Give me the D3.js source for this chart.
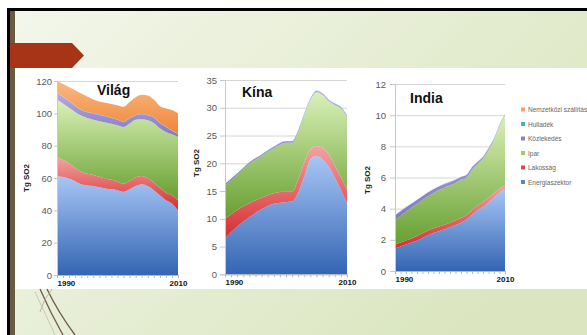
<!DOCTYPE html>
<html>
<head>
<meta charset="utf-8">
<script src="https://cdn.jsdelivr.net/npm/d3@7"></script>
<style>
  html, body { margin: 0; padding: 0; background: #fff; }
  svg { display: block; font-family: "Liberation Sans", Arial, sans-serif; }
</style>
</head>
<body>
<div id="chart"></div>
<script>
// years (x axis runs 1990 - 2010)
const years = [1990, 1992, 1994, 1996, 1998, 2000, 2001, 2002, 2003, 2004, 2005, 2006, 2007, 2008, 2009, 2010]

// stacking order, bottom to top
const sectors = ['Energiaszektor', 'Lakosság', 'Ipar', 'Közlekedés', 'Hulladék', 'Nemzetközi szállítás']

// Tg SO2 per sector (not cumulative), same order as sectors
const vilagValues = [
  [61.1, 59.7, 56.2, 55.0, 53.5, 52.5, 51.5, 53.0, 55.0, 56.2, 55.0, 52.5, 49.4, 46.3, 44.3, 40.1],
  [11.9, 9.5, 7.6, 6.8, 6.2, 5.4, 5.0, 5.3, 5.5, 5.0, 4.8, 4.6, 4.5, 4.6, 5.0, 6.2],
  [35.5, 34.3, 34.8, 34.2, 34.6, 34.7, 35.1, 35.4, 35.5, 35.1, 35.9, 36.9, 36.9, 37.6, 37.7, 39.1],
  [4.1, 4.0, 3.4, 3.8, 3.9, 3.4, 3.2, 3.1, 2.8, 3.1, 3.1, 3.4, 3.2, 3.1, 2.2, 1.8],
  [0.2, 0.2, 0.2, 0.2, 0.2, 0.2, 0.2, 0.2, 0.2, 0.2, 0.2, 0.2, 0.2, 0.2, 0.2, 0.2],
  [7.2, 8.6, 10.0, 8.6, 8.1, 8.8, 9.0, 10.0, 11.0, 11.9, 12.0, 10.9, 10.3, 11.2, 12.6, 12.6]
]
const kinaValues = [
  [6.5, 8.6, 10.3, 11.7, 12.7, 13.0, 13.1, 14.7, 17.6, 20.7, 21.3, 20.7, 19.4, 17.4, 15.2, 12.8],
  [3.5, 3.0, 2.5, 2.1, 1.9, 1.9, 1.8, 2.4, 2.6, 1.8, 1.8, 2.1, 2.2, 2.2, 2.3, 2.5],
  [6.0, 6.3, 7.1, 7.5, 8.1, 8.8, 8.8, 8.6, 8.5, 8.9, 9.7, 9.5, 9.6, 10.9, 12.4, 13.1],
  [0.25, 0.25, 0.25, 0.25, 0.25, 0.25, 0.25, 0.25, 0.25, 0.25, 0.25, 0.25, 0.25, 0.25, 0.25, 0.25],
  [0.05, 0.05, 0.05, 0.05, 0.05, 0.05, 0.05, 0.05, 0.05, 0.05, 0.05, 0.05, 0.05, 0.05, 0.05, 0.05],
  [0, 0, 0, 0, 0, 0, 0, 0, 0, 0, 0, 0, 0, 0, 0, 0]
]
const indiaValues = [
  [1.44, 1.7, 1.95, 2.3, 2.55, 2.8, 2.95, 3.1, 3.3, 3.6, 3.9, 4.1, 4.4, 4.7, 5.0, 5.3],
  [0.26, 0.25, 0.3, 0.3, 0.3, 0.3, 0.3, 0.3, 0.3, 0.3, 0.3, 0.35, 0.3, 0.3, 0.3, 0.2],
  [1.56, 1.85, 2.05, 2.2, 2.35, 2.4, 2.4, 2.45, 2.4, 2.6, 2.65, 2.75, 3.05, 3.4, 4.0, 4.5],
  [0.3, 0.28, 0.26, 0.24, 0.22, 0.2, 0.2, 0.18, 0.16, 0.15, 0.14, 0.12, 0.12, 0.1, 0.08, 0.06],
  [0.02, 0.02, 0.02, 0.02, 0.02, 0.02, 0.02, 0.02, 0.02, 0.02, 0.02, 0.02, 0.02, 0.02, 0.02, 0.02],
  [0, 0, 0, 0, 0, 0, 0, 0, 0, 0, 0, 0, 0, 0, 0, 0]
]

const vilagTicks = [0, 20, 40, 60, 80, 100, 120]
const kinaTicks = [0, 5, 10, 15, 20, 25, 30, 35]
const indiaTicks = [0, 2, 4, 6, 8, 10, 12]
const xLabels = [1990, 2010]

// vertical gradient per sector [top, bottom]
const gradColors = [
  ['#a8c6f6', '#3465b3'],
  ['#f4a2a2', '#d52e30'],
  ['#daf1b8', '#679f30'],
  ['#b4aae2', '#8577c4'],
  ['#6ccae4', '#3a9cc0'],
  ['#fab983', '#ef8638']
]
const legendColors = ['#5b86cc', '#d9474f', '#a6ca6a', '#8e80c4', '#4bb0ce', '#f4a06c']

const W = 587, H = 335
const svg = d3.select('#chart').append('svg').attr('width', W).attr('height', H)
const defs = svg.append('defs')

const bg = defs.append('linearGradient').attr('id', 'slidebg')
  .attr('x1', 0).attr('y1', 0).attr('x2', 1).attr('y2', 0.6)
bg.append('stop').attr('offset', 0).attr('stop-color', '#f3f6ea')
bg.append('stop').attr('offset', 1).attr('stop-color', '#dbe6c0')

gradColors.forEach((c, i) => {
  const lg = defs.append('linearGradient').attr('id', 'grad' + i)
    .attr('x1', 0).attr('y1', 0).attr('x2', 0).attr('y2', 1)
  lg.append('stop').attr('offset', 0).attr('stop-color', c[0])
  lg.append('stop').attr('offset', 1).attr('stop-color', c[1])
})

// slide frame
svg.append('rect').attr('width', W).attr('height', H).attr('fill', '#fff')
svg.append('rect').attr('x', 15).attr('y', 11).attr('width', W - 15).attr('height', H - 11).attr('fill', 'url(#slidebg)')
svg.append('rect').attr('x', 7).attr('y', 8).attr('width', W - 7).attr('height', 3).attr('fill', '#000')
svg.append('rect').attr('x', 7).attr('y', 8).attr('width', 3).attr('height', H - 8).attr('fill', '#000')
svg.append('rect').attr('x', 10).attr('y', 11).attr('width', 5).attr('height', H - 11).attr('fill', '#6b5b3e')

// red arrow tab
svg.append('path').attr('d', 'M10,43 L72,43 L84,55.5 L72,68 L10,68 Z').attr('fill', '#a83418')

// white picture
svg.append('rect').attr('x', 15).attr('y', 68).attr('width', W - 15).attr('height', 221).attr('fill', '#fff')

// curved decoration lines under the picture
const deco = svg.append('g').attr('fill', 'none')
deco.append('path').attr('d', 'M40,289 Q50,312 63,335').attr('stroke', '#6d5d44').attr('stroke-width', 1.3)
deco.append('path').attr('d', 'M47,289 Q58,312 75,335').attr('stroke', '#6d5d44').attr('stroke-width', 1.3)
deco.append('path').attr('d', 'M52,289 Q43,300 40,312').attr('stroke', '#b8b49a').attr('stroke-width', 1)
deco.append('path').attr('d', 'M35,292 Q46,315 55,335').attr('stroke', '#c9c9b0').attr('stroke-width', 1)

const panels = [
  { name: 'Világ', values: vilagValues, ticks: vilagTicks, left: 57, right: 178, top: 81, bottom: 275,
    titleX: 97, titleY: 95, labelX: 29, labelY: 178, tick: 3, pad: 2 },
  { name: 'Kína', values: kinaValues, ticks: kinaTicks, left: 225, right: 347, top: 80, bottom: 274.3,
    titleX: 242, titleY: 97, labelX: 199, labelY: 163, tick: 5, pad: 3 },
  { name: 'India', values: indiaValues, ticks: indiaTicks, left: 395, right: 505, top: 84, bottom: 271,
    titleX: 410, titleY: 103, labelX: 370, labelY: 180, tick: 5, pad: 4 }
]

function drawPanel(p) {
  const x = d3.scaleLinear().domain([1990, 2010]).range([p.left, p.right])
  const y = d3.scaleLinear().domain([0, d3.max(p.ticks)]).range([p.bottom, p.top])
  const g = svg.append('g')

  // gridlines
  g.append('g')
    .attr('transform', 'translate(' + p.left + ',0)')
    .call(d3.axisLeft(y).tickValues(p.ticks).tickSize(-(p.right - p.left)).tickFormat(''))
    .call(s => s.select('.domain').remove())
    .call(s => s.selectAll('line').attr('stroke', '#d6d6d6'))

  // stacked areas
  const rows = years.map((yr, i) => {
    const r = { year: yr }
    sectors.forEach((s, k) => { r[s] = p.values[k][i] })
    return r
  })
  const series = d3.stack().keys(sectors)(rows)
  const area = d3.area()
    .x(d => x(d.data.year))
    .y0(d => y(d[0]))
    .y1(d => y(d[1]))
    .curve(d3.curveMonotoneX)

  g.append('g')
    .selectAll('path')
    .data(series)
    .join('path')
    .attr('d', area)
    .attr('fill', (d, i) => 'url(#grad' + i + ')')

  // y axis
  g.append('g')
    .attr('transform', 'translate(' + p.left + ',0)')
    .call(d3.axisLeft(y).tickValues(p.ticks).tickSize(p.tick).tickPadding(p.pad))
    .call(s => s.select('.domain').attr('stroke', '#c8c8c8'))
    .call(s => s.selectAll('line').attr('stroke', '#c8c8c8'))
    .call(s => s.selectAll('text').attr('fill', '#5a5a5a').style('font-size', '9.5px'))

  // x axis: small yearly ticks
  g.append('g')
    .attr('transform', 'translate(0,' + p.bottom + ')')
    .call(d3.axisBottom(x).tickValues(d3.range(1990, 2011)).tickSize(3).tickFormat('').tickSizeOuter(0))
    .call(s => s.select('.domain').attr('stroke', '#b8b8b8'))
    .call(s => s.selectAll('line').attr('stroke', '#b8b8b8'))

  // x axis labels
  g.append('g')
    .attr('transform', 'translate(0,' + p.bottom + ')')
    .call(d3.axisBottom(x).tickValues(xLabels).tickSize(0).tickPadding(5).tickFormat(d3.format('d')))
    .call(s => s.select('.domain').remove())
    .call(s => s.selectAll('text')
      .attr('fill', '#111')
      .style('font-size', '8px')
      .style('font-weight', 'bold')
      .attr('text-anchor', (d, i) => i === 0 ? 'start' : 'middle'))

  // title
  svg.append('text')
    .attr('x', p.titleX).attr('y', p.titleY)
    .style('font-size', '14px').style('font-weight', 'bold')
    .attr('fill', '#111')
    .text(p.name)

  // unit label
  svg.append('text')
    .attr('transform', 'translate(' + p.labelX + ',' + p.labelY + ') rotate(-90)')
    .attr('text-anchor', 'middle')
    .style('font-size', '8px').style('font-weight', 'bold')
    .attr('fill', '#222')
    .text('Tg SO2')
}

panels.forEach(drawPanel)

// legend, top item = last sector
const legend = svg.append('g')
sectors.slice().reverse().forEach((s, i) => {
  const k = sectors.length - 1 - i
  const ly = 110 + i * 14.5
  legend.append('rect')
    .attr('x', 521).attr('y', ly - 2.5).attr('width', 4).attr('height', 4)
    .attr('fill', legendColors[k])
  legend.append('text')
    .attr('x', 528).attr('y', ly + 2)
    .style('font-size', '6.5px')
    .attr('fill', '#666')
    .text(s)
})
</script>
</body>
</html>
